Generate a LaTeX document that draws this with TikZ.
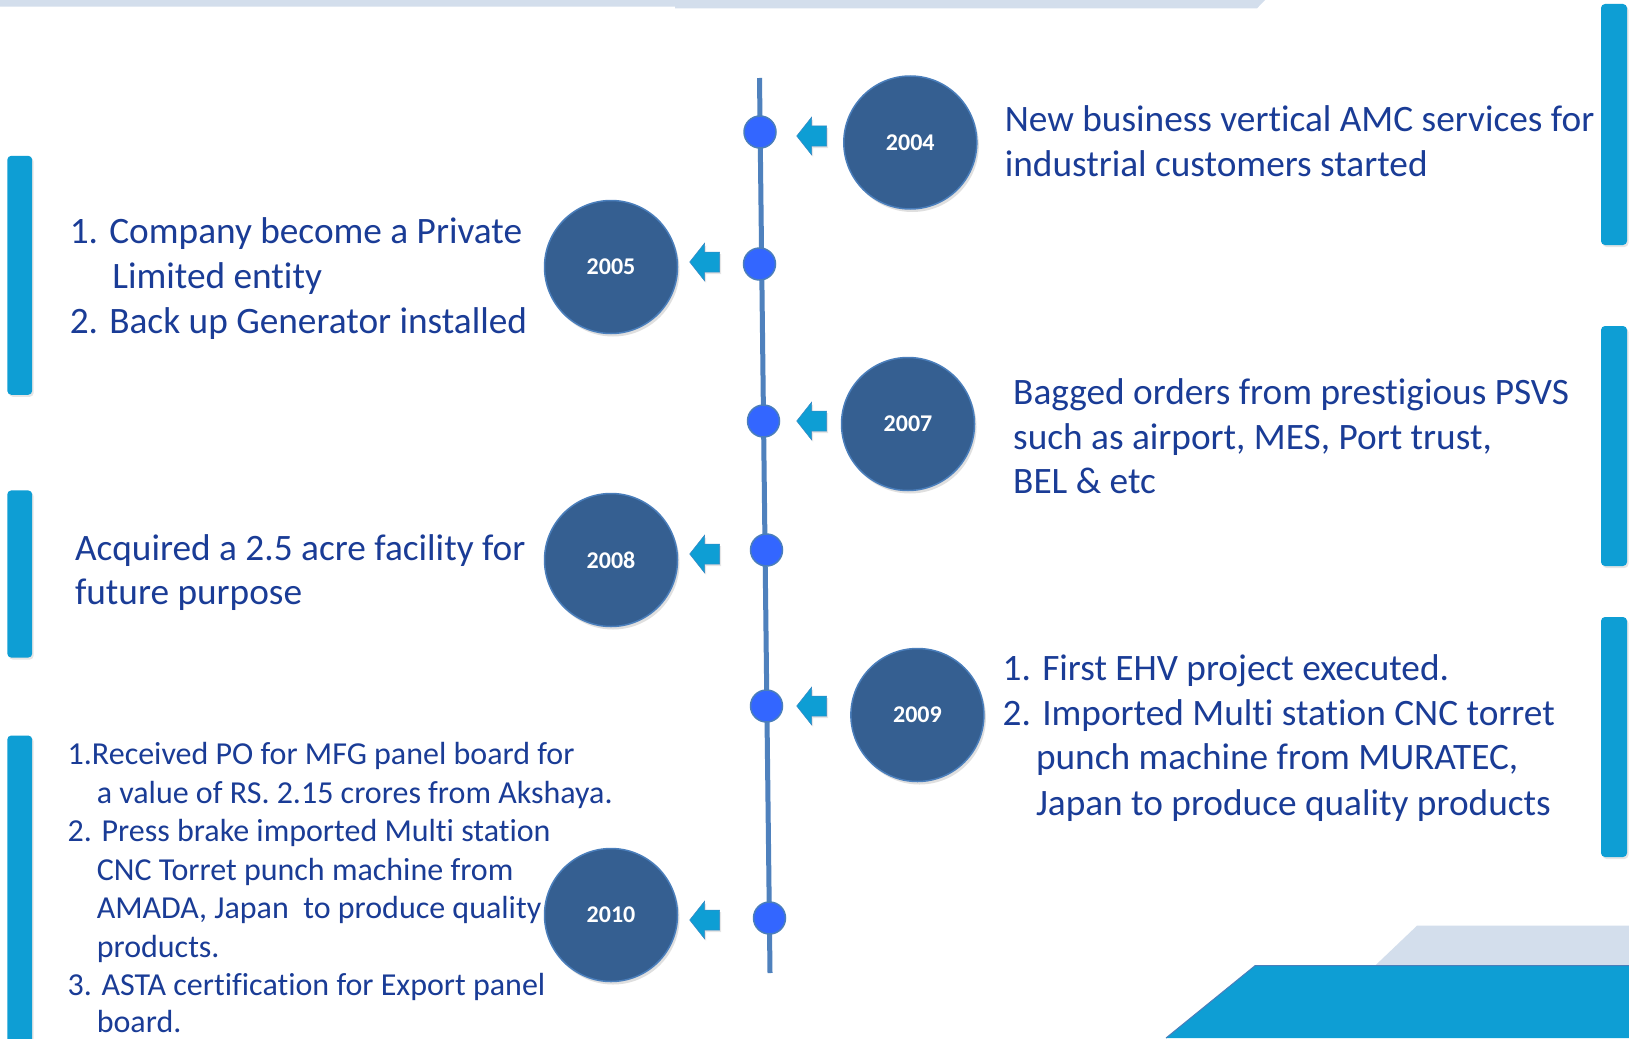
\documentclass[tikz,border=0pt]{standalone}
\usepackage{fontspec}
\setmainfont{Carlito}[RawFeature={-liga;-clig;-calt;-dlig}]
\usetikzlibrary{shadows}
\definecolor{txtc}{HTML}{1A3C96}
\definecolor{circc}{HTML}{355F91}
\definecolor{circb}{HTML}{4A7EBB}
\definecolor{dotc}{HTML}{3366FF}
\definecolor{barc}{HTML}{0E9ED4}
\definecolor{stripc}{HTML}{D3DEEC}
\definecolor{linec}{HTML}{4F81BD}
\begin{document}
\begin{tikzpicture}[x=1pt,y=-1pt,
  yearc/.style={circle, fill=circc, draw=circb, line width=1.5pt, minimum size=133pt, inner sep=0pt,
    text=white, font=\fontsize{24}{28}\selectfont\bfseries,
    drop shadow={opacity=0.25, shadow xshift=2pt, shadow yshift=-3pt}},
  dotn/.style={circle, fill=dotc, draw=circb, line width=1.5pt, minimum size=32pt, inner sep=0pt},
  bigt/.style={anchor=base west, inner sep=0pt, text=txtc, font=\fontsize{37.3}{45}\selectfont},
  smallt/.style={anchor=base west, inner sep=0pt, text=txtc, font=\fontsize{32}{38}\selectfont},
  sidebar/.style={fill=barc, rounded corners=4pt, drop shadow={opacity=0.2, shadow xshift=1.5pt, shadow yshift=-2pt}},
  arrowshape/.style={fill=barc, draw=circb!70!barc, line width=0.5pt, drop shadow={opacity=0.2, shadow xshift=1.5pt, shadow yshift=-2pt}},
  tline/.style={draw=linec, line width=5pt}
]
\clip (0,0) rectangle (1629,1038);
\fill[white] (0,0) rectangle (1629,1038);

% top strip
\fill[stripc] (0,0) -- (1265,0) -- (1257,8.3) -- (675,8.3) -- (675,6.7) -- (0,6.7) -- cycle;

% bottom-right shapes
\fill[stripc] (1417,925.7) -- (1629,925.7) -- (1629,980) -- (1360,980) -- cycle;
\fill[barc] (1255,965.7) -- (1629,965.7) -- (1629,1038) -- (1166,1038) -- cycle;
\draw[circb, line width=1pt] (1166,1038) -- (1255,965.7) -- (1629,965.7);

% side bars
\path[sidebar] (7.3,155.8) rectangle (32.2,394.8);
\path[sidebar] (7.3,490.4) rectangle (32.2,657.6);
\path[sidebar] (7.3,735.5) rectangle (32.2,1048);
\path[sidebar] (1601,4) rectangle (1627,245);
\path[sidebar] (1601,326) rectangle (1627,566);
\path[sidebar] (1601,617) rectangle (1627,857);

% timeline
\coordinate (ltop) at (759.5,78);
\coordinate (lbot) at (770,973);
\draw[tline] (ltop) -- (lbot);

% dots
\node[dotn] (d1) at (760,132) {};
\node[dotn] (d2) at (759.5,264) {};
\node[dotn] (d3) at (763.5,421) {};
\node[dotn] (d4) at (766.5,550) {};
\node[dotn] (d5) at (766.5,706) {};
\node[dotn] (d6) at (769.5,918) {};

% arrows (centres)
\coordinate (a1) at (811.7,136);
\coordinate (a2) at (704.7,262);
\coordinate (a3) at (811.7,421);
\coordinate (a4) at (704.7,554);
\coordinate (a5) at (811.7,706);
\coordinate (a6) at (704.7,920);
\foreach \a in {a1,a2,a3,a4,a5,a6}{
  \path[arrowshape] (\a) ++(-15,0) -- ++(15,-19) -- ++(0,9) -- ++(15,0) -- ++(0,20) -- ++(-15,0) -- ++(0,9) -- cycle;
}

% year circles
\node[yearc] (y2004) at (910.3,142.5) {2004};
\node[yearc] (y2005) at (611,267) {2005};
\node[yearc] (y2007) at (908,424) {2007};
\node[yearc] (y2008) at (611,560) {2008};
\node[yearc] (y2009) at (917.4,715) {2009};
\node[yearc] (y2010) at (611,915) {2010};

% texts 2004
\node[bigt] (t2004a) at (1004.6,131.5) {New business vertical AMC services for};
\node[bigt] (t2004b) at (1004.6,176.2) {industrial customers started};
% 2005
\node[bigt] (t2005a) at (69.6,243.7) {1. Company become a Private};
\node[bigt] (t2005b) at (112.2,288.4) {Limited entity};
\node[bigt] (t2005c) at (69.6,333.1) {2. Back up Generator installed};
% 2007
\node[bigt] (t2007a) at (1013,404.5) {Bagged orders from prestigious PSVS};
\node[bigt] (t2007b) at (1013,449.2) {such as airport, MES, Port trust,};
\node[bigt] (t2007c) at (1013,493.9) {BEL \& etc};
% 2008
\node[bigt] (t2008a) at (74.8,560) {Acquired a 2.5 acre facility for};
\node[bigt] (t2008b) at (74.8,604.7) {future purpose};
% 2009
\node[bigt] (t2009a) at (1002.5,680.5) {1. First EHV project executed.};
\node[bigt] (t2009b) at (1002.5,725.2) {2. Imported Multi station CNC torret};
\node[bigt] (t2009c) at (1035.8,769.9) {punch machine from MURATEC,};
\node[bigt] (t2009d) at (1035.8,815.5) {Japan to produce quality products};
% 2010
\node[smallt] (t2010a) at (67.5,764.5) {1.Received PO for MFG panel board for};
\node[smallt] (t2010b) at (96.6,803.2) {a value of RS. 2.15 crores from Akshaya.};
\node[smallt] (t2010c) at (67.5,841.5) {2. Press brake imported Multi station};
\node[smallt] (t2010d) at (96.6,880.1) {CNC Torret punch machine from};
\node[smallt] (t2010e) at (96.6,918.5) {AMADA, Japan\ \ to produce quality};
\node[smallt] (t2010f) at (96.6,957) {products.};
\node[smallt] (t2010g) at (67.5,995.5) {3. ASTA certification for Export panel};
\node[smallt, text depth=0pt] (t2010h) at (96.6,1032.5) {board.};
\end{tikzpicture}
\end{document}
